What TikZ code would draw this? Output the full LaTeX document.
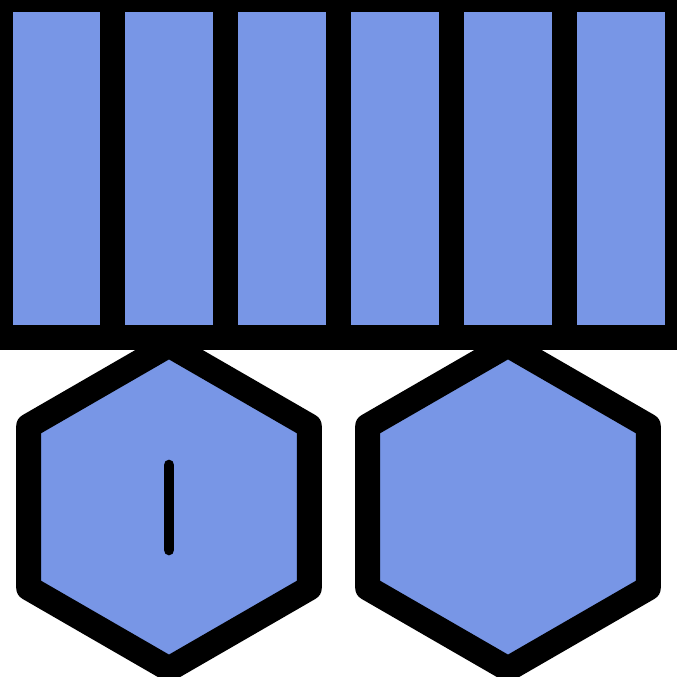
\documentclass[tikz,border=0pt]{standalone}
\definecolor{cellblue}{RGB}{120,150,230}
\tikzset{
  cell/.style={fill=cellblue, draw=black, line width=25pt, line join=miter},
  hexa/.style={fill=cellblue, draw=black, line width=25pt, line join=round},
  mark line/.style={draw=black, line width=10.7pt, line cap=round}
}
\begin{document}
\begin{tikzpicture}[x=1pt,y=-1pt]
\useasboundingbox (0,0) rectangle (677,677);
\clip (0,0) rectangle (677,677);
\foreach \k in {0,...,5}{
  \draw[cell] ({112.833*\k},0) rectangle ({112.833*(\k+1)},337.5);
}
\foreach \cx/\nm in {169/hexL,508/hexR}{
  \draw[hexa] (\cx,507) ++(90:-162) -- ++(-30:-162) -- ++(-90:-162) -- ++(-150:-162) -- ++(150:-162) -- ++(90:-162) -- cycle;
}
\coordinate (mtop) at (169,465);
\coordinate (mbot) at (169,550);
\draw[mark line] (mtop) -- (mbot);
\end{tikzpicture}
\end{document}
